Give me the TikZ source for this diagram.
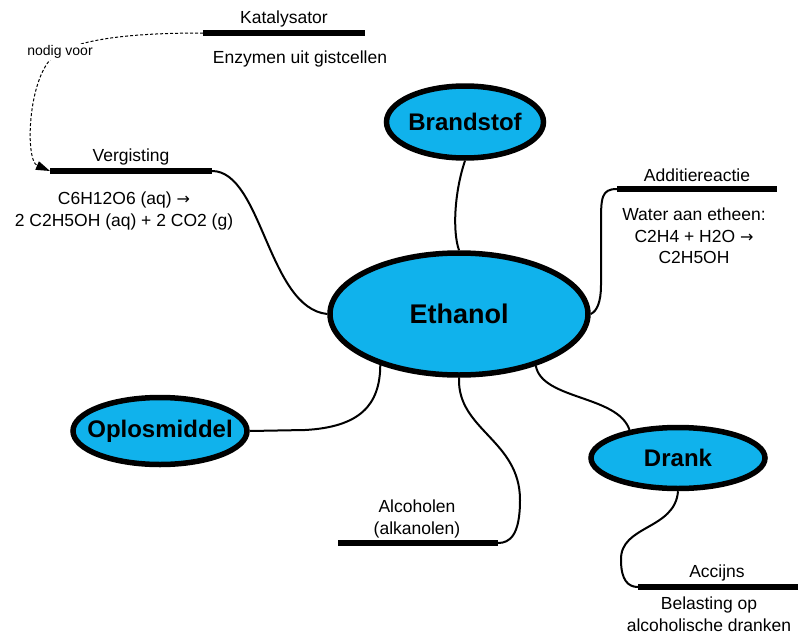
\documentclass[tikz,border=0pt]{standalone}
\usepackage{fontspec}
\setmainfont{Liberation Sans}
\newfontfamily\arrowfont{DejaVu Sans}
\usetikzlibrary{shapes.geometric,arrows.meta}
\definecolor{topicblue}{RGB}{16,178,236}
\newcommand{\rarr}{{\arrowfont\fontsize{16}{16}\selectfont →}}
\newcommand{\topictext}[1]{\makebox[0pt][c]{#1}}
\begin{document}
\begin{tikzpicture}[x=1pt,y=-1pt,
  topic/.style={ellipse,draw=black,line width=5.5pt,fill=topicblue,inner sep=0pt,
    font=\bfseries\fontsize{24}{28}\selectfont},
  bar/.style={line width=6pt},
  link/.style={line width=2pt},
  txt/.style={font=\fontsize{17.5}{21.5}\selectfont,inner sep=0pt,align=center},
  small/.style={font=\fontsize{14}{16}\selectfont,inner sep=1pt,fill=white},
  ]
\useasboundingbox (0,0) rectangle (798,637);

% central topic and sub-topics
\node[topic,minimum width=258pt,minimum height=122pt,
  font=\bfseries\fontsize{27}{32}\selectfont] (eth) at (459,314) {\topictext{Ethanol}};
\node[topic,minimum width=157pt,minimum height=72pt] (brand) at (465,122) {\topictext{Brandstof}};
\node[topic,minimum width=174pt,minimum height=67pt] (oplos) at (160,431) {\topictext{Oplosmiddel}};
\node[topic,minimum width=174pt,minimum height=61pt] (drank) at (678,458) {\topictext{Drank}};

% labelled bars
\coordinate (katL) at (203,33);   \coordinate (katR) at (365,33);
\coordinate (vergL) at (50,171);  \coordinate (vergR) at (212,171);
\coordinate (addL) at (617,189);  \coordinate (addR) at (777,189);
\coordinate (alcL) at (338,543);  \coordinate (alcR) at (498,543);
\coordinate (accL) at (638,587);  \coordinate (accR) at (798,587);
\draw[bar] (katL) -- (katR);
\draw[bar] (vergL) -- (vergR);
\draw[bar] (addL) -- (addR);
\draw[bar] (alcL) -- (alcR);
\draw[bar] (accL) -- (accR);

\node[txt] (katT) at (284,19) {Katalysator};
\node[txt] (katN) at (300,59) {Enzymen uit gistcellen};
\node[txt] (vergT) at (131,157) {Vergisting};
\node[txt] (vergN) at (124,211) {C6H12O6 (aq) \rarr\\2 C2H5OH (aq) + 2 CO2 (g)};
\node[txt] (addT) at (697,175) {Additiereactie};
\node[txt] (addN) at (694,236) {Water aan etheen:\\C2H4 + H2O \rarr\\C2H5OH};
\node[txt] (alcT) at (417,519) {Alcoholen\\(alkanolen)};
\node[txt] (accT) at (717,573) {Accijns};
\node[txt] (accN) at (709,614) {Belasting op\\alcoholische dranken};

% connectors
\draw[link] (vergR) .. controls (262,171) and (268,308) .. (eth.west);
\draw[link] (brand.south) .. controls (455,190) and (452,230) .. (eth.north);
\draw[link] (addL) .. controls (601,189) and (601,198) .. (601,225)
  -- (601,285) .. controls (601,302) and (597,311) .. (eth.east);
\draw[link] (oplos.east) -- (305,430) .. controls (360,427) and (380,405) .. (eth.213);
\draw[link] (eth.south) .. controls (457,430) and (520,440) .. (520,500)
  .. controls (520,535) and (510,543) .. (alcR);
\draw[link] (eth.326) .. controls (542,400) and (618,395) .. (drank.150);
\draw[link] (drank.south) .. controls (675,530) and (620,525) .. (621,560)
  .. controls (621,580) and (628,587) .. (accL);

% dashed relation between the two bars
\coordinate (nv) at (60,52);
\draw[line width=1pt,dash pattern=on 3pt off 2pt] (katL) .. controls (150,33) and (90,36) .. (nv);
\draw[line width=1pt,dash pattern=on 3pt off 2pt,-{Triangle[length=14pt,width=9pt]}]
  (nv) .. controls (28,66) and (24,160) .. (vergL);
\node[small] (nodig) at (nv) {nodig voor};
\end{tikzpicture}
\end{document}
